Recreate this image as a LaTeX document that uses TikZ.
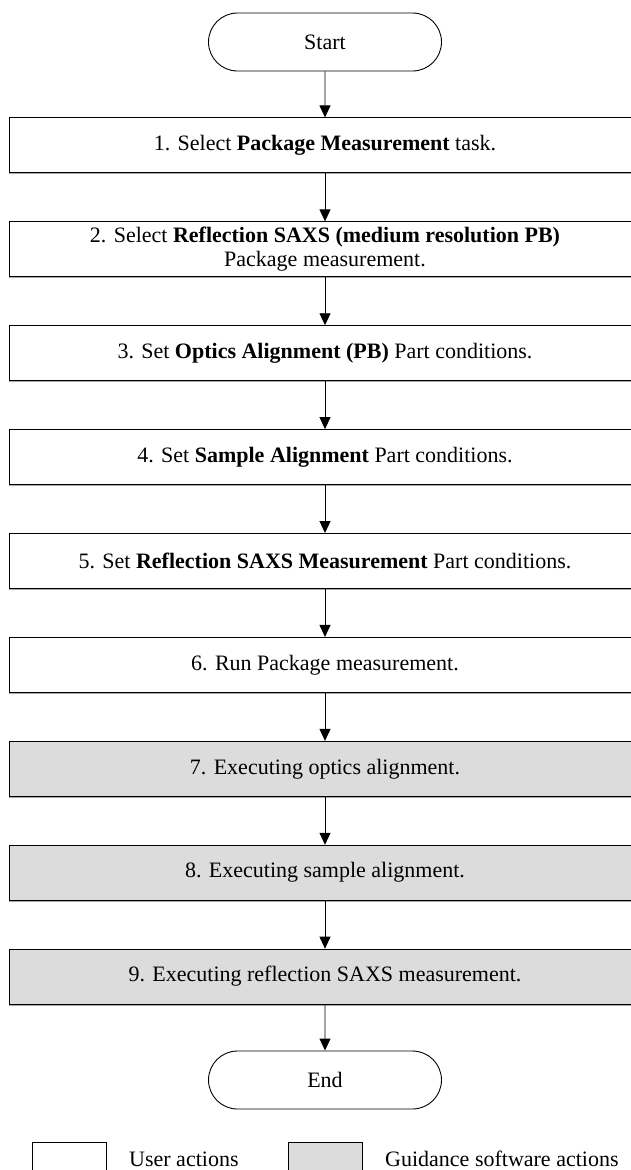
\documentclass[tikz,border=0pt]{standalone}
\usepackage{fontspec}
\setmainfont{Liberation Serif}
\usetikzlibrary{positioning, arrows.meta, shapes.misc, shadows}
\definecolor{guidegray}{RGB}{220,220,220}

\begin{document}
\begin{tikzpicture}[
    font=\fontsize{22}{24}\selectfont,
    node distance=48pt,
    terminal/.style={rounded rectangle, draw, line width=0.9pt, minimum width=233pt, minimum height=58pt, inner sep=0pt},
    userbox/.style={rectangle, draw, line width=0.9pt, fill=white, minimum width=632pt, minimum height=55pt, inner sep=0pt, align=center,
        drop shadow={shadow xshift=0pt, shadow yshift=-1.5pt, fill=gray!70, opacity=1}},
    guidebox/.style={userbox, fill=guidegray},
    arrowstyle/.style={-{Triangle[width=11pt,length=12pt]}, line width=0.9pt},
    legendbox/.style={rectangle, draw, line width=0.9pt, minimum width=74pt, minimum height=50pt, inner sep=0pt},
    legendtext/.style={anchor=base west, inner sep=0pt}
]
\useasboundingbox (0,0) rectangle (630pt,-1170pt);

% Terminals and steps
\node[terminal] (start) at (325pt,-42pt) {Start};
\node[userbox, below=46pt of start] (s1) {1. Select \textbf{Package Measurement} task.};
\node[userbox, below=of s1] (s2) {2. Select \textbf{Reflection SAXS (medium resolution PB)}\\Package measurement.};
\node[userbox, below=of s2] (s3) {3. Set \textbf{Optics Alignment (PB)} Part conditions.};
\node[userbox, below=of s3] (s4) {4. Set \textbf{Sample Alignment} Part conditions.};
\node[userbox, below=of s4] (s5) {5. Set \textbf{Reflection SAXS Measurement} Part conditions.};
\node[userbox, below=of s5] (s6) {6. Run Package measurement.};
\node[guidebox, below=of s6] (s7) {7. Executing optics alignment.};
\node[guidebox, below=of s7] (s8) {8. Executing sample alignment.};
\node[guidebox, below=of s8] (s9) {9. Executing reflection SAXS measurement.};
\node[terminal, below=46pt of s9] (end) {End};

% Flow arrows
\draw[arrowstyle] (start) -- (s1);
\draw[arrowstyle] (s1) -- (s2);
\draw[arrowstyle] (s2) -- (s3);
\draw[arrowstyle] (s3) -- (s4);
\draw[arrowstyle] (s4) -- (s5);
\draw[arrowstyle] (s5) -- (s6);
\draw[arrowstyle] (s6) -- (s7);
\draw[arrowstyle] (s7) -- (s8);
\draw[arrowstyle] (s8) -- (s9);
\draw[arrowstyle] (s9) -- (end);

% Legend
\node[legendbox, anchor=north west] (keyuser) at (32pt,-1142pt) {};
\node[legendtext] (keyusertext) at (129pt,-1166pt) {User actions};
\node[legendbox, fill=guidegray, anchor=north west] (keyguide) at (288pt,-1142pt) {};
\node[legendtext] (keyguidetext) at (385pt,-1166pt) {Guidance software actions};

\end{tikzpicture}
\end{document}
